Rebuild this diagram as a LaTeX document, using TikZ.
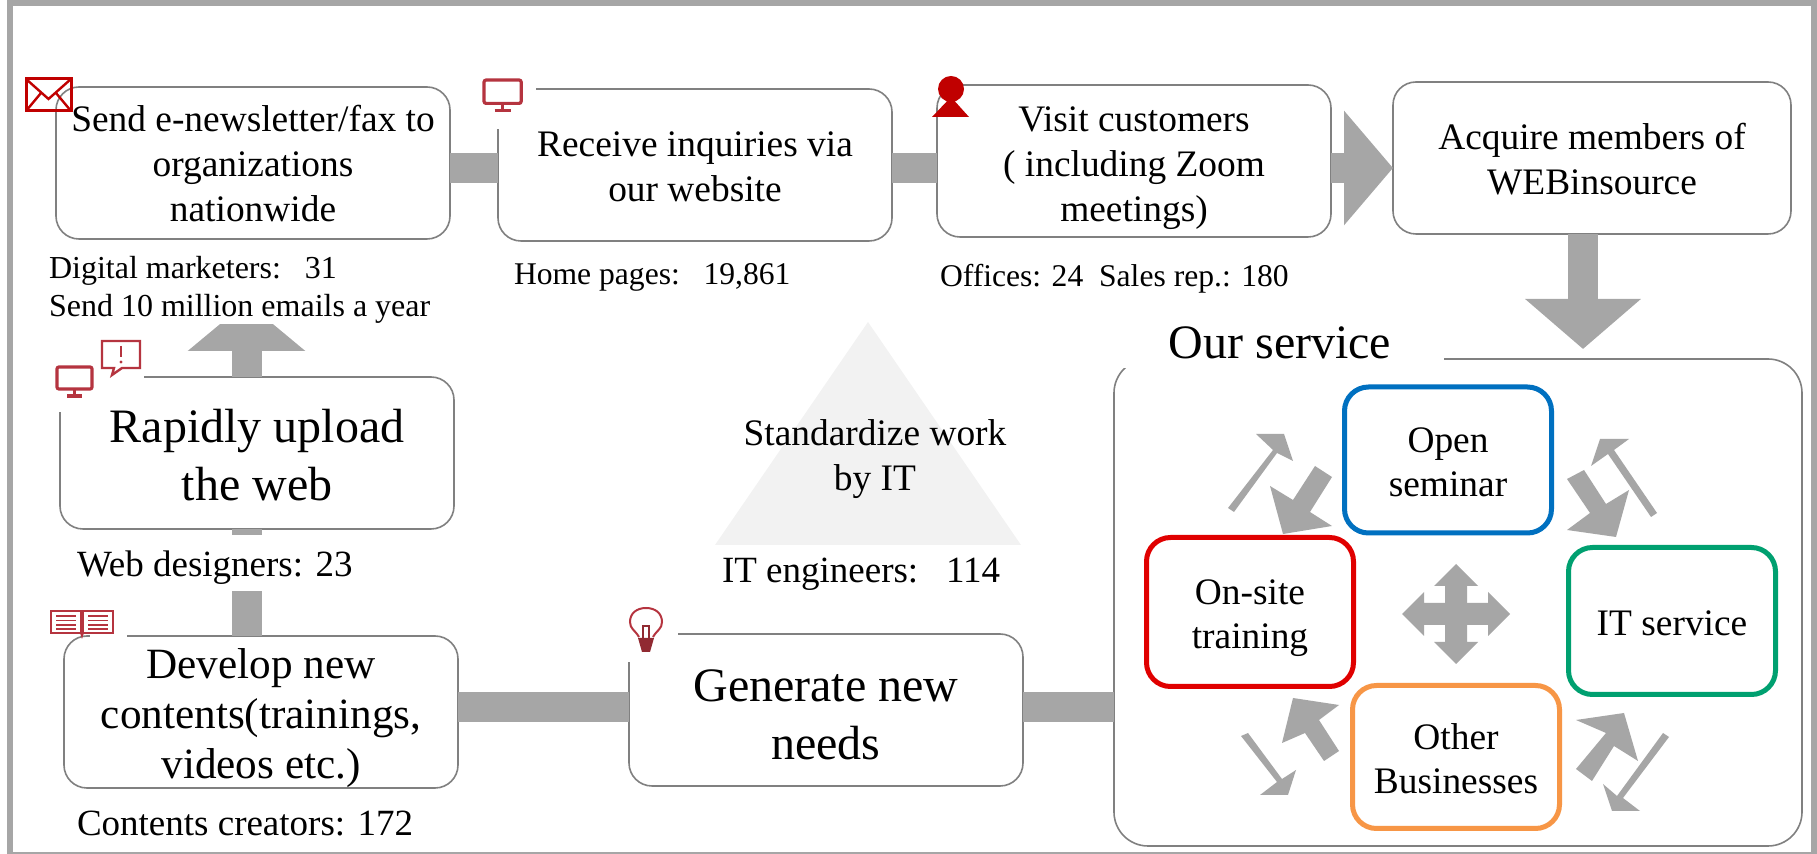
\documentclass[tikz,border=0pt]{standalone}
\usepackage{fontspec}
\setmainfont{Liberation Serif}
\usetikzlibrary{arrows.meta}
\definecolor{bargray}{HTML}{A6A6A6}
\definecolor{iconred}{HTML}{B5343F}
\definecolor{mailred}{HTML}{C00000}
\definecolor{seminarblue}{HTML}{0070C0}
\definecolor{onsitered}{HTML}{E00000}
\definecolor{itgreen}{HTML}{00A070}
\definecolor{otherorange}{HTML}{F79646}
\tikzset{
  flowbox/.style={draw=black!50,line width=.8pt,fill=white,rounded corners=11.5pt,minimum width=197pt,minimum height=76pt,inner sep=0pt,outer sep=0pt,align=center},
  midtext/.style={font=\fontsize{18.7}{22.5}\selectfont},
  bigtext/.style={font=\fontsize{24}{29}\selectfont},
  devtext/.style={font=\fontsize{21.6}{25}\selectfont},
  smalltext/.style={font=\fontsize{15.8}{19}\selectfont,inner sep=0pt,outer sep=0pt,align=left},
  countext/.style={font=\fontsize{18.5}{22}\selectfont,inner sep=0pt,outer sep=0pt},
  kindbox/.style={draw=#1,line width=2.5pt,fill=white,rounded corners=12pt,minimum width=103.5pt,inner sep=0pt,outer sep=0pt,align=center,font=\fontsize{18.7}{22}\selectfont},
  flowbar/.style={draw=bargray,line width=15pt},
}
\def\droptext#1{\rule{0pt}{\dimexpr.683em+#1pt\relax}}
\def\screenicon{%
    \draw [iconred,line width=1.6pt,rounded corners=1pt] (1,1) rectangle (36,23);
    \draw [iconred,line width=1.6pt] (18.5,23)--(18.5,30);
    \draw [iconred,line width=1.6pt] (11,30)--(26,30);
}
\def\mailicon{%
    \draw [mailred,line width=1.5pt] (0,0) rectangle (45,32);
    \draw [mailred,line width=1.2pt] (0,0)--(22.5,20)--(45,0);
    \draw [mailred,line width=1.2pt] (0,32)--(15,14);
    \draw [mailred,line width=1.2pt] (45,32)--(30,14);
}
\def\personicon{%
    \fill [mailred] (19,10) circle (13);
    \fill [mailred] (0,38)--(19,18)--(37,38)--cycle;
}
\def\speechicon{%
    \draw [iconred,line width=1.2pt] (0,0)--(38,0)--(38,27)--(20,27)--(10,34)--(12,27)--(0,27)--cycle;
    \draw [iconred,line width=1pt] (19,5)--(19,16);
    \fill [iconred] (19,21) circle (1.6);
}
\def\bulbicon{%
    \draw [iconred,line width=1pt] (10,29)..controls (6,22) and (1,21) .. (1,14)..controls (1,5) and (8,0) .. (17,0)..controls (26,0) and (33,5) .. (33,14)..controls (33,21) and (28,22) .. (24,29);
    \fill [iconred!80!black] (9,30)--(25,30)--(21,44)--(13,44)--cycle;
    \draw [iconred!80!black,line width=.8pt] (14,30)--(14,18)--(20,18)--(20,30);
}
\def\bookicon{%
    \draw [iconred,line width=.9pt] (0,0) rectangle (30,22);
    \draw [iconred,line width=.9pt] (32,0) rectangle (62,22);
    \draw [iconred,line width=.9pt] (30,22)--(31,25)--(32,22);
    \foreach \y in {5,9.5,14,18}
    {
    \draw [iconred,line width=.7pt] (5,\y)--(25,\y);
    \draw [iconred,line width=.7pt] (37,\y)--(57,\y);
    }
}
\begin{document}
\begin{tikzpicture}[x=.5pt,y=-.5pt]
\useasboundingbox (0,0) rectangle (1817,854);
\draw [bargray,line width=3pt] (9.5,3) rectangle (1814,855);
% the triangle in the middle
\fill [black!5] (868,322)--(715,545)--(1021,545)--cycle;
% upper row
\node [flowbox,midtext] (sendbox) at (253,163) {\droptext{.8}Send e-newsletter/fax to\\organizations\\nationwide};
\node [flowbox,midtext] (webbox) at (695,165) {\droptext{1}Receive inquiries via\\our website};
\node [flowbox,midtext] (visitbox) at (1134,161) {\droptext{7}Visit customers\\( including Zoom\\meetings)};
\node [flowbox,midtext,minimum width=199pt] (acquirebox) at (1592,158) {\droptext{2}Acquire members of\\WEBinsource};
% lower row
\node [flowbox,bigtext] (uploadbox) at (257,453) {\droptext{2.3}Rapidly upload\\the web};
\node [flowbox,devtext] (developbox) at (261,712) {\droptext{6.4}Develop new\\contents(trainings,\\videos etc.)};
\node [flowbox,bigtext] (needsbox) at (826,710) {\droptext{4.6}Generate new\\needs};
\draw [draw=black!50,line width=.8pt,fill=white,rounded corners=17pt] (1114,359) rectangle (1802,846);
\coordinate (servicewest) at (1114,706);
% kinds of service
\node [kindbox=seminarblue,minimum height=73pt] (seminarbox) at (1448,460) {\droptext{2.3}Open\\seminar};
\node [kindbox=onsitered,minimum height=74.5pt] (onsitebox) at (1250,612) {\droptext{5.8}On-site\\training};
\node [kindbox=itgreen,minimum height=73.5pt] (itbox) at (1672,621) {\droptext{2.3}IT service};
\node [kindbox=otherorange,minimum height=71.5pt] (otherbox) at (1456,757) {\droptext{2.3}Other\\Businesses};
% bars
\coordinate (servicetip) at (1583,349);
\coordinate (uploadtip) at (246.5,302);
\draw [flowbar] (sendbox.east |- 0,168)--(webbox.west |- 0,168);
\draw [flowbar] (webbox.east |- 0,168)--(visitbox.west |- 0,168);
\draw [flowbar,-{Triangle[length=24.5pt,width=56pt]}] (visitbox.east |- 0,168)--(acquirebox.west |- 0,168);
\draw [flowbar,-{Triangle[length=25pt,width=56.5pt]}] (servicetip |- acquirebox.south)--(servicetip);
\draw [flowbar] (developbox.east |- 0,707)--(needsbox.west |- 0,707);
\draw [flowbar] (needsbox.east |- 0,707)--(servicewest |- 0,707);
\draw [flowbar] (uploadtip |- developbox.north)--(uploadtip |- uploadbox.south);
\draw [flowbar,-{Triangle[length=24.5pt,width=57.5pt]}] (uploadtip |- uploadbox.north)--(uploadtip);
% labels
\node [smalltext,font=\fontsize{16}{19}\selectfont,fill=white,anchor=south west,inner xsep=2pt,inner ysep=.5pt] (sendlabel) at (45,324) {Digital marketers:\ \ \ 31\\Send 10 million emails a year};
\node [smalltext,anchor=west] (weblabel) at (514,277.5) {Home pages:\ \ \ 19,861};
\node [smalltext,anchor=west] (visitlabel) at (940,279) {Offices: 24\ \ Sales rep.: 180};
\node [countext,fill=white,anchor=west,minimum height=28pt,text depth=0pt] (uploadlabel) at (77,563.5) {Web designers: 23};
\node [countext,anchor=west] (developlabel) at (77,824) {Contents creators: 172};
\node [midtext,align=center,inner sep=0pt] (triangletext) at (875,459) {Standardize work\\by IT};
\node [countext,anchor=west] (trianglelabel) at (722,574) {IT engineers:\ \ \ 114};
\node [fill=white,minimum width=164pt,minimum height=25pt,inner sep=0pt,font=\fontsize{24}{29}\selectfont] (servicelabel) at (1280,343) {Our service};
% arrows between the kinds of service
\fill [bargray] (1315,466)--(1332,477)--(1310,512)--(1332,526)--(1283,534)--(1270,486)--(1293,500)--cycle;
\fill [bargray] (1324,761)--(1339,751)--(1319,720)--(1339,705)--(1293,698)--(1282,743)--(1305,733)--cycle;
\fill [bargray] (1228,508)--(1234,512)--(1277,453)--(1293,461)--(1284,434)--(1256,434)--(1273,450)--cycle;
\fill [bargray] (1241,736)--(1248,733)--(1282,779)--(1296,770)--(1288,795)--(1260,795)--(1277,782)--cycle;
\begin{scope}[xshift=-1.5pt]
\fill [bargray] (1570,479)--(1587,470)--(1609,504)--(1632,490)--(1619,537)--(1570,530)--(1593,513)--cycle;
\fill [bargray] (1579,769)--(1595,781)--(1617,746)--(1641,761)--(1627,713)--(1579,720)--(1609,733)--cycle;
\fill [bargray] (1654,517)--(1660,513)--(1617,450)--(1632,439)--(1603,439)--(1594,466)--(1611,454)--cycle;
\fill [bargray] (1666,733)--(1672,737)--(1626,798)--(1643,811)--(1615,811)--(1606,784)--(1620,796)--cycle;
\end{scope}
\coordinate (crosscenter) at (1456,614);
\foreach \r/\l in {0/50,90/54,180/50,270/54}
{
\begin{scope}[shift={(crosscenter)},rotate=\r]
	\fill [bargray] (-11,-11)--(-11,-\l+22)--(-22,-\l+22)--(0,-\l)--(22,-\l+22)--(11,-\l+22)--(11,-11)--cycle;
\end{scope}
}
\fill [bargray] (1445,603) rectangle (1467,625);
% icons, with the outline broken round them
\fill [white] (480,78) rectangle (536,129);
\fill [white] (50,340) rectangle (144,382);
\fill [white] (50,382) rectangle (100,412);
\fill [white] (620,625) rectangle (678,662);
\fill [white] (90,630) rectangle (127,640);
\begin{scope}[shift={(26,79)}]
\mailicon
\end{scope}
\begin{scope}[shift={(483,79)},scale=1.06]
\screenicon
\end{scope}
\begin{scope}[shift={(932,79)}]
\personicon
\end{scope}
\begin{scope}[shift={(56,366)}]
\screenicon
\end{scope}
\begin{scope}[shift={(102,341)}]
\speechicon
\end{scope}
\begin{scope}[shift={(51,611)}]
\bookicon
\end{scope}
\begin{scope}[shift={(629,608)}]
\bulbicon
\end{scope}
\end{tikzpicture}
\end{document}
